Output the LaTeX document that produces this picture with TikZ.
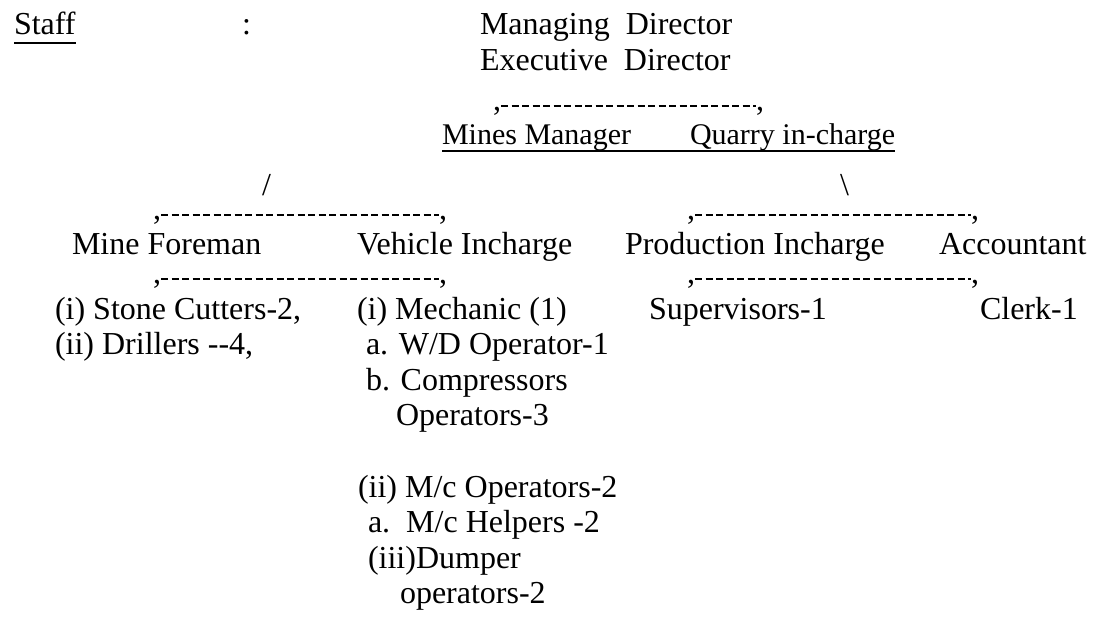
\documentclass[tikz,border=0pt]{standalone}
\usepackage{fontspec}
\setmainfont{Liberation Serif}
\begin{document}
\begin{tikzpicture}[x=1pt,y=-1pt,
  every node/.style={inner sep=0pt, outer sep=0pt, anchor=base west, font=\fontsize{32}{35.6}\selectfont},
  small/.style={font=\fontsize{30}{35.6}\selectfont},
  comma/.style={anchor=base},
  dashline/.style={line width=1.4pt, dash pattern=on 7pt off 3.5pt},
  rule/.style={line width=1.3pt}]
\useasboundingbox (0,0) rectangle (1108,622);
% top
\node (staff) at (14,34) {Staff};
\draw[rule] (staff.west |- 0,43) -- (staff.east |- 0,43);
\node (colon) at (242,34) {:};
\node (md) at (480,34) {Managing\ \ Director};
\node (ed) at (480,70) {Executive\ \ Director};
\node[comma] (c1l) at (497,110) {,};
\node[comma] (c1r) at (760,110) {,};
\draw[dashline] (c1l.east |- 0,106) -- (c1r.west |- 0,106);
\node[small] (mm) at (442,144) {Mines Manager};
\node[small] (qi) at (690,144) {Quarry in-charge};
\draw[rule] (mm.west |- 0,151) -- (qi.east |- 0,151);
\node (sl) at (262,195) {/};
\node (bs) at (840,195) {\textbackslash};
% level 2 connectors
\node[comma] (c2l) at (157,219) {,};
\node[comma] (c2r) at (443,219) {,};
\draw[dashline] (c2l.east |- 0,215) -- (c2r.west |- 0,215);
\node[comma] (c3l) at (691,219) {,};
\node[comma] (c3r) at (975,219) {,};
\draw[dashline] (c3l.east |- 0,215) -- (c3r.west |- 0,215);
% level 2
\node (mf) at (72,254) {Mine Foreman};
\node (vi) at (357,254) {Vehicle Incharge};
\node (pi) at (625,254) {Production Incharge};
\node (ac) at (939,254) {Accountant};
% level 3 connectors
\node[comma] (c4l) at (157,283) {,};
\node[comma] (c4r) at (443,283) {,};
\draw[dashline] (c4l.east |- 0,279) -- (c4r.west |- 0,279);
\node[comma] (c5l) at (691,283) {,};
\node[comma] (c5r) at (975,283) {,};
\draw[dashline] (c5l.east |- 0,279) -- (c5r.west |- 0,279);
% level 3
\node (sc) at (55,319) {(i) Stone Cutters-2,};
\node (dr) at (55,354.6) {(ii) Drillers -{}-4,};
\node (me) at (357,319) {(i) Mechanic (1)};
\node (wd) at (366,354.6) {a. W/D Operator-1};
\node (co) at (366,390.2) {b. Compressors};
\node (co2) at (396,425.8) {Operators-3};
\node (mo) at (358,497) {(ii) M/c Operators-2};
\node (mh) at (368,532.6) {a.\ \ M/c Helpers -2};
\node (du) at (368,568.2) {(iii)Dumper};
\node (du2) at (400,603.8) {operators-2};
\node (su) at (649,319) {Supervisors-1};
\node (cl) at (980,319) {Clerk-1};
\end{tikzpicture}
\end{document}
